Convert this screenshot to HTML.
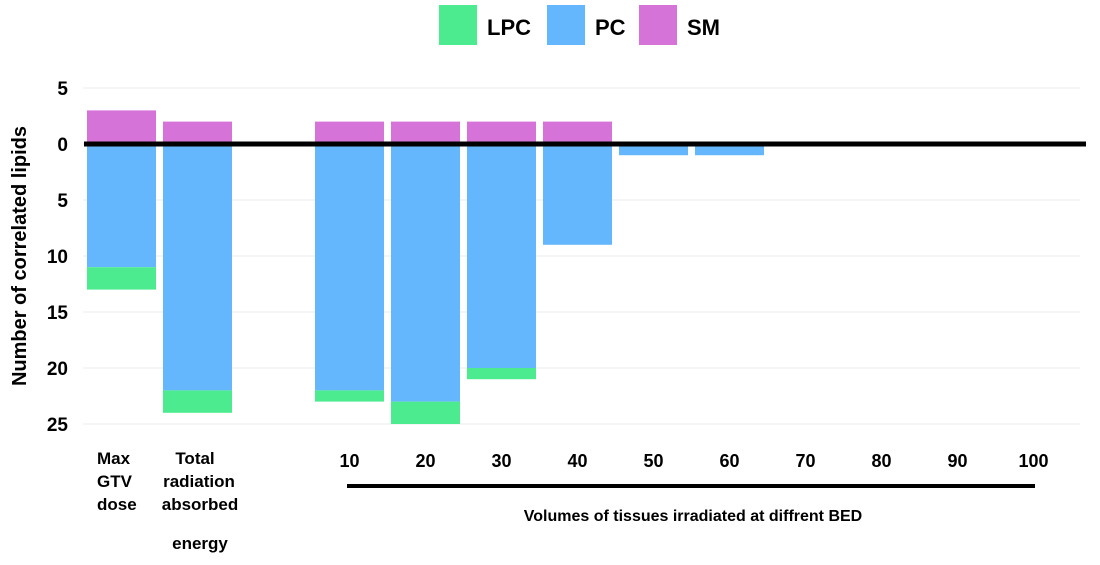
<!DOCTYPE html>
<html><head><meta charset="utf-8"><style>
body{margin:0;background:#fff;width:1100px;height:560px;overflow:hidden;font-family:"Liberation Sans",sans-serif}
</style></head><body>
<svg id="chart" width="1100" height="560" xmlns="http://www.w3.org/2000/svg" font-family="Liberation Sans, sans-serif">
<g>
<rect x="439" y="5" width="38" height="40" fill="#4deb8f"/>
<text x="487" y="35" font-size="22" font-weight="bold">LPC</text>
<rect x="547" y="5" width="38" height="40" fill="#65b7fd"/>
<text x="595" y="35" font-size="22" font-weight="bold">PC</text>
<rect x="639" y="5" width="38" height="40" fill="#d673d8"/>
<text x="687" y="35" font-size="22" font-weight="bold">SM</text>
</g>
<text transform="translate(26,256) rotate(-90)" text-anchor="middle" font-size="20" font-weight="bold">Number of correlated lipids</text>
<g id="grid"></g><g id="bars"></g><g id="axes"></g>
<line x1="347" y1="486" x2="1035" y2="486" stroke="#000" stroke-width="4"/>
<text x="693" y="521" text-anchor="middle" font-size="16" font-weight="bold">Volumes of tissues irradiated at diffrent BED</text>
<g font-size="17" font-weight="bold">
<text x="97" y="464">Max</text><text x="97" y="487">GTV</text><text x="97" y="510">dose</text></g>
<g font-size="17" font-weight="bold" text-anchor="middle">
<text x="195" y="464">Total</text><text x="199" y="487">radiation</text><text x="200" y="510">absorbed</text><text x="200" y="549">energy</text></g>
</svg>
<script>
const categories=["Max GTV dose","Total radiation absorbed energy","","10","20","30","40","50","60","70","80","90","100"];
const smVals=[3,2,0,2,2,2,2,0,0,0,0,0,0];
const pcVals=[11,22,0,22,23,20,9,1,1,0,0,0,0];
const lpcVals=[2,2,0,1,2,1,0,0,0,0,0,0,0];
const yTicks=[5,0,-5,-10,-15,-20,-25];
const ns="http://www.w3.org/2000/svg";
const y=v=>144-v*11.2;
const xc=i=>121.5+i*76;
const bw=69;
function mk(t,a,p){const e=document.createElementNS(ns,t);for(const k in a)e.setAttribute(k,a[k]);p.appendChild(e);return e;}
const grid=document.getElementById('grid'),bars=document.getElementById('bars'),axes=document.getElementById('axes');
yTicks.forEach(t=>{
 const l=mk('line',{x1:83,x2:1080,y1:y(t),y2:y(t),stroke:'#ebebeb','stroke-width':1},grid);
 
 
 const tx=mk('text',{x:68,y:y(t)+7,'text-anchor':'end','font-size':19,'font-weight':'bold'},axes);
 tx.textContent=Math.abs(t);
 
 
});
categories.forEach((c,i)=>{
 const x=xc(i)-bw/2;
 if(smVals[i]>0){const r=mk('rect',{x:x,y:y(smVals[i]),width:bw,height:y(0)-y(smVals[i]),fill:'#d673d8'},bars);
  
  }
 if(pcVals[i]>0){const r=mk('rect',{x:x,y:y(0),width:bw,height:y(-pcVals[i])-y(0),fill:'#65b7fd'},bars);
  
  }
 if(lpcVals[i]>0){const r=mk('rect',{x:x,y:y(-pcVals[i]),width:bw,height:y(-pcVals[i]-lpcVals[i])-y(-pcVals[i]),fill:'#4deb8f'},bars);
  
  }
 if(i>=3){const t=mk('text',{x:xc(i),y:467,'text-anchor':'middle','font-size':18,'font-weight':'bold'},axes);
  t.textContent=c;
  
  }
});
const z=mk('line',{x1:84,x2:1086,y1:y(0),y2:y(0),stroke:'#000','stroke-width':5},axes);


</script>
</body></html>
